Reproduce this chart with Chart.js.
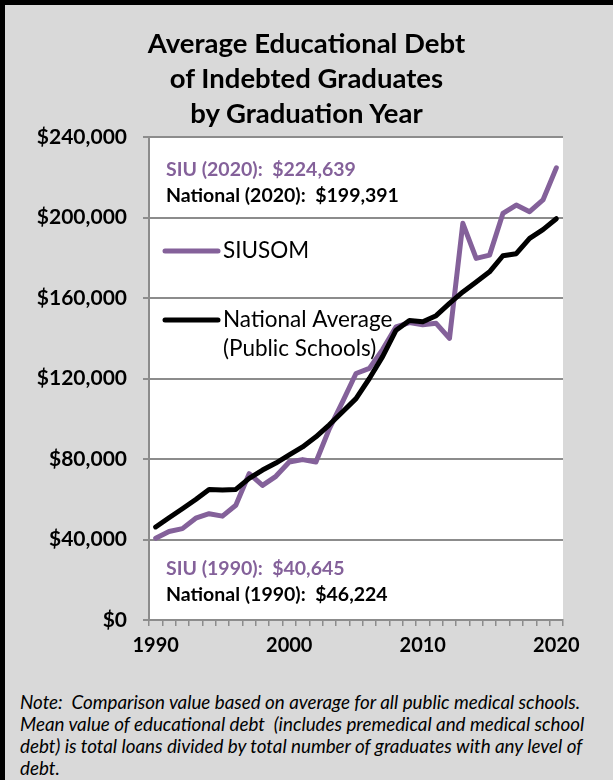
<!DOCTYPE html>
<html lang="en">
<head>
    <meta charset="UTF-8">
    <title>Average Educational Debt</title>
    <script src="https://cdn.jsdelivr.net/npm/chart.js"></script>
    <style>
        body { margin: 0; background: #d9d9d9; font-family: Lato, sans-serif; }
        #frame { position: absolute; left: 0; top: 0; width: 613px; height: 780px; background: #d9d9d9; overflow: hidden; }
        #borderL { position: absolute; left: 0; top: 0; width: 5px; height: 780px; background: #000; }
        #borderT { position: absolute; left: 0; top: 0; width: 613px; height: 5px; background: #000; }
        #title { position: absolute; left: 0; top: 25px; width: 613px; text-align: center; font-weight: bold; font-size: 27.5px; line-height: 35px; color: #000; }
        #chartBox { position: absolute; left: 0; top: 0; width: 613px; height: 680px; }
        #note { position: absolute; left: 20px; top: 691px; font-style: italic; font-size: 18.8px; line-height: 22px; color: #000; white-space: pre; }
    </style>
</head>
<body>
<div id="frame">
    <div id="chartBox"><canvas id="debtChart" width="613" height="680"></canvas></div>
    <div id="title">Average Educational Debt<br>of Indebted Graduates<br>by Graduation Year</div>
    <div id="note">Note:  Comparison value based on average for all public medical schools.
Mean value of educational debt  (includes premedical and medical school
debt) is total loans divided by total number of graduates with any level of
debt.</div>
    <div id="borderL"></div>
    <div id="borderT"></div>
</div>

<script>
    const years = ['1990', '1991', '1992', '1993', '1994', '1995', '1996', '1997', '1998', '1999',
        '2000', '2001', '2002', '2003', '2004', '2005', '2006', '2007', '2008', '2009',
        '2010', '2011', '2012', '2013', '2014', '2015', '2016', '2017', '2018', '2019', '2020'];

    // SIU School of Medicine
    const siuDebt = [40645, 44000, 45400, 50600, 52800, 51600, 57000, 72700, 66900, 71400,
        78500, 79700, 78500, 95000, 108500, 122500, 125000, 134500, 145700, 147800,
        146700, 147400, 139900, 197100, 179700, 181300, 202000, 206200, 202900, 208700, 224639];

    // national average, public schools
    const nationalDebt = [46224, 50800, 55300, 59900, 64800, 64600, 64900, 70400, 74500, 78000,
        82000, 86000, 91000, 97000, 103500, 110000, 120000, 131000, 144000, 148800,
        148200, 151200, 157300, 163000, 168000, 173000, 181000, 182000, 189600, 194000, 199391];

    const yTicks = [0, 40000, 80000, 120000, 160000, 200000, 240000];
    const labeledYears = ['1990', '2000', '2010', '2020'];

    const callouts = [
        { text: 'SIU (2020):  $224,639', color: '#84619a', y: 170 },
        { text: 'National (2020):  $199,391', color: '#000000', y: 196 },
        { text: 'SIU (1990):  $40,645', color: '#84619a', y: 569 },
        { text: 'National (1990):  $46,224', color: '#000000', y: 595 }
    ];

    const money = v => '$' + v.toLocaleString('en-US');

    // white plot area
    const plotBg = {
        id: 'plotBg',
        beforeDraw(chart) {
            const a = chart.chartArea;
            chart.ctx.save();
            chart.ctx.fillStyle = '#ffffff';
            chart.ctx.fillRect(a.left, a.top, a.right - a.left, a.bottom - a.top);
            chart.ctx.restore();
        }
    };

    // legend and value notes drawn inside the plot
    const insideText = {
        id: 'insideText',
        afterDraw(chart) {
            const ctx = chart.ctx;
            ctx.save();
            ctx.textBaseline = 'middle';
            ctx.textAlign = 'left';
            ctx.font = 'bold 19.5px Lato';
            callouts.forEach(c => {
                ctx.fillStyle = c.color;
                ctx.fillText(c.text, 166, c.y);
            });

            const rows = [
                { ds: chart.data.datasets[0], y: 251, lines: ['SIUSOM'] },
                { ds: chart.data.datasets[1], y: 320, lines: ['National Average', '(Public Schools)'] }
            ];
            ctx.font = '22.5px Lato';
            rows.forEach(r => {
                ctx.strokeStyle = r.ds.borderColor;
                ctx.lineWidth = 5;
                ctx.lineCap = 'round';
                ctx.beginPath();
                ctx.moveTo(165, r.y);
                ctx.lineTo(218, r.y);
                ctx.stroke();
                ctx.fillStyle = '#000';
                r.lines.forEach((t, i) => ctx.fillText(t, 223, r.y + i * 29));
            });
            ctx.restore();
        }
    };

    const ctx = document.getElementById('debtChart').getContext('2d');

    new Chart(ctx, {
        type: 'line',
        data: {
            labels: years,
            datasets: [{
                label: 'SIUSOM',
                data: siuDebt,
                borderColor: '#84619a',
                borderWidth: 5,
                pointRadius: 0,
                borderJoinStyle: 'round',
                borderCapStyle: 'round',
                order: 1
            }, {
                label: 'National Average (Public Schools)',
                data: nationalDebt,
                borderColor: '#000000',
                borderWidth: 5,
                pointRadius: 0,
                borderJoinStyle: 'round',
                borderCapStyle: 'round',
                order: 0
            }]
        },
        options: {
            responsive: false,
            animation: false,
            layout: {
                padding: { left: 0, right: 50, top: 137, bottom: 10 }
            },
            plugins: {
                legend: { display: false },
                tooltip: { enabled: false }
            },
            scales: {
                x: {
                    offset: true,
                    afterFit: scale => { scale.height = 50; },
                    grid: {
                        offset: true,
                        drawOnChartArea: false,
                        drawTicks: true,
                        tickLength: 6,
                        color: '#8c8c8c',
                        lineWidth: 1.5
                    },
                    border: { color: '#8c8c8c', width: 2 },
                    ticks: {
                        autoSkip: false,
                        maxRotation: 0,
                        padding: 8,
                        color: '#000',
                        font: { family: 'Lato', size: 20, weight: 'bold' },
                        callback: function (value) {
                            const lab = this.getLabelForValue(value);
                            return labeledYears.includes(lab) ? lab : '';
                        }
                    }
                },
                y: {
                    min: yTicks[0],
                    max: yTicks[yTicks.length - 1],
                    afterFit: scale => { scale.width = 149; },
                    afterBuildTicks: scale => { scale.ticks = yTicks.map(v => ({ value: v })); },
                    grid: {
                        color: '#8c8c8c',
                        lineWidth: 2,
                        tickLength: 6
                    },
                    border: { color: '#8c8c8c', width: 2 },
                    ticks: {
                        padding: 16,
                        color: '#000',
                        font: { family: 'Lato', size: 21, weight: 'bold' },
                        callback: v => money(v)
                    }
                }
            }
        },
        plugins: [plotBg, insideText]
    });
</script>
</body>
</html>
